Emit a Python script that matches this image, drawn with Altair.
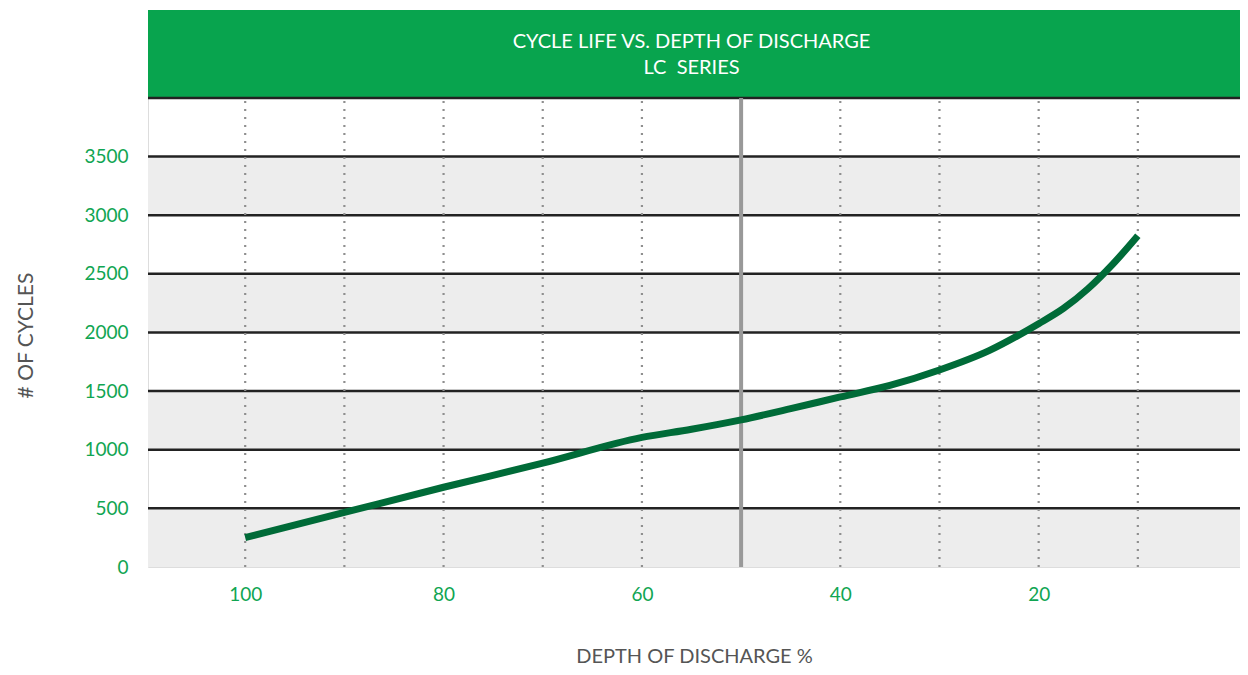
import altair as alt
import pandas as pd

# data
dod = [100, 90, 80, 70, 60, 55, 50, 45, 40, 35, 30, 25, 20, 17.5, 15, 12.5, 10]
cycles = [250, 465, 680, 885, 1105, 1175, 1255, 1350, 1450, 1548, 1680, 1845, 2075, 2205, 2375, 2585, 2825]

y_ticks = [0, 500, 1000, 1500, 2000, 2500, 3000, 3500]
x_ticks = [100, 80, 60, 40, 20]
dotted_x = [100, 90, 80, 70, 60, 40, 30, 20, 10]
solid_x = [50]
band_lo = [0, 1000, 2000, 3000]
band_hi = [500, 1500, 2500, 3500]
hlines = [500, 1000, 1500, 2000, 2500, 3000, 3500, 4000]
header_lo, header_hi = 4000, 4750
title_lines = ["CYCLE LIFE VS. DEPTH OF DISCHARGE", "LC\u00a0\u00a0SERIES"]

GREEN = "#08a44e"
DARK_GREEN = "#006b38"
LABEL_GREEN = "#10a552"
FONT = "Lato"
X_LEFT, X_RIGHT = 109.8, -0.3

xs = alt.Scale(domain=[X_LEFT, X_RIGHT], nice=False, zero=False)
ys = alt.Scale(domain=[0, 4750], nice=False)

x_axis = alt.Axis(values=x_ticks, domain=False, ticks=False, grid=False, format="d",
                  labelColor=LABEL_GREEN, labelFont=FONT, labelFontSize=19,
                  labelPadding=18, title="DEPTH OF DISCHARGE %", titleFont=FONT,
                  titleFontSize=20, titleFontWeight="normal", titleColor="#555555",
                  titlePadding=42)
y_axis = alt.Axis(values=y_ticks, domain=False, ticks=False, grid=False, format="d",
                  labelColor=LABEL_GREEN, labelFont=FONT, labelFontSize=19,
                  labelPadding=20, title="# OF CYCLES", titleFont=FONT,
                  titleFontSize=21, titleFontWeight="normal", titleColor="#555555",
                  titleX=-122, titleY=325, titleBaseline="middle", titleAlign="center",
                  titleAngle=270)

line_df = pd.DataFrame({"dod": dod, "cycles": cycles})
band_df = pd.DataFrame({"lo": band_lo, "hi": band_hi})
hline_df = pd.DataFrame({"y": hlines})
dot_df = pd.DataFrame({"x": dotted_x})
solid_df = pd.DataFrame({"x": solid_x})

base_line = alt.Chart(line_df).mark_line(
    color=DARK_GREEN, strokeWidth=7, interpolate="monotone", strokeCap="butt"
).encode(
    x=alt.X("dod:Q", scale=xs, axis=x_axis),
    y=alt.Y("cycles:Q", scale=ys, axis=y_axis),
)

bands = alt.Chart(band_df).mark_rect(color="#ededed").encode(
    x=alt.datum(X_LEFT, scale=xs), x2=alt.datum(X_RIGHT),
    y=alt.Y("lo:Q", scale=ys), y2="hi:Q",
)

header = alt.Chart(pd.DataFrame({"lo": [header_lo], "hi": [header_hi]})).mark_rect(
    color=GREEN).encode(
    x=alt.datum(X_LEFT, scale=xs), x2=alt.datum(X_RIGHT),
    y=alt.Y("lo:Q", scale=ys), y2="hi:Q",
)

hrules = alt.Chart(hline_df).mark_rule(color="#222222", strokeWidth=2.5).encode(
    y=alt.Y("y:Q", scale=ys),
)

dots = alt.Chart(dot_df).mark_rule(
    color="#8f8f8f", strokeWidth=2.2, strokeDash=[2, 6]
).encode(
    x=alt.X("x:Q", scale=xs),
    y=alt.datum(0, scale=ys), y2=alt.datum(4000),
)

solid = alt.Chart(solid_df).mark_rule(color="#999999", strokeWidth=4).encode(
    x=alt.X("x:Q", scale=xs),
    y=alt.datum(0, scale=ys), y2=alt.datum(4000),
)

title_df = pd.DataFrame({"x": [55, 55], "y": [4480, 4255], "t": title_lines})
titles = alt.Chart(title_df).mark_text(
    color="white", font=FONT, fontSize=20, align="center", baseline="middle"
).encode(
    x=alt.X("x:Q", scale=xs), y=alt.Y("y:Q", scale=ys), text="t:N",
)

chart = alt.layer(bands, header, hrules, dots, solid, base_line, titles).properties(
    width=1092, height=557,
    autosize=alt.AutoSizeParams(type="none"),
    padding={"left": 140, "top": 2, "right": 0, "bottom": 100},
).configure_view(
    stroke="#333333", strokeWidth=3
).configure(background="white")

chart.save("out.html", embed_options={"renderer": "svg", "actions": False})
